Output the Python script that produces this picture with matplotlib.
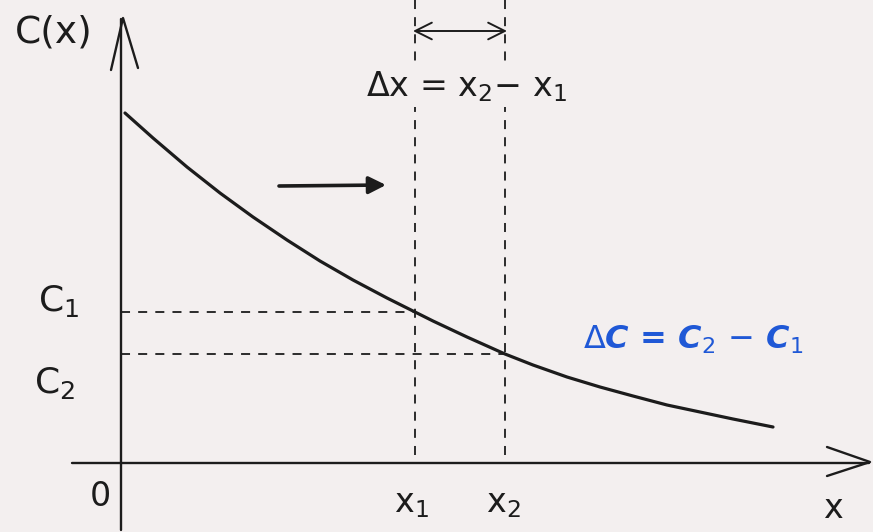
import numpy as np
import matplotlib.pyplot as plt
import matplotlib

matplotlib.rcParams.update({
    "font.family": ["DejaVu Sans"],
    "mathtext.fontset": "dejavusans",
})

x_curve = [0.04, 0.32, 0.66, 0.99, 1.32, 1.66, 1.99, 2.32, 2.66, 2.94,
           3.12, 3.46, 3.84, 4.12, 4.46, 4.79, 5.12, 5.46, 5.79, 6.12, 6.52]
c_curve = [3.50, 3.25, 2.96, 2.70, 2.46, 2.23, 2.02, 1.83, 1.65, 1.51,
           1.42, 1.26, 1.09, 0.98, 0.86, 0.76, 0.67, 0.58, 0.51, 0.44, 0.36]

x1, x2 = 2.94, 3.84
C1, C2 = 1.51, 1.09

ink = "#1c1c1c"
blue = "#1f58d6"
paper = "#f3efef"

fig = plt.figure(figsize=(8.73, 5.32), dpi=100, facecolor=paper)
ax = fig.add_axes([0, 0, 1, 1])
ax.set_facecolor(paper)
ax.set_xlim(-1.21, 7.52)
ax.set_ylim(-0.69, 4.63)
ax.axis("off")

# axes with open arrowheads
axis_kw = dict(color=ink, lw=1.7, solid_joinstyle="round", solid_capstyle="round")
ax.plot([-0.49, 7.48], [0, 0], **axis_kw)
ax.plot([7.06, 7.49, 7.06], [0.16, 0.01, -0.13], **axis_kw)
ax.plot([0, 0], [-0.67, 4.44], **axis_kw)
ax.plot([-0.10, 0.02, 0.17], [3.93, 4.45, 3.95], **axis_kw)

# the curve
ax.plot(x_curve, c_curve, color=ink, lw=2.3, solid_capstyle="round",
        solid_joinstyle="round")

# guide lines
dash = dict(color=ink, lw=1.3, dashes=(5, 4.5))
ax.plot([0, x1], [C1, C1], **dash)
ax.plot([0, x2], [C2, C2], **dash)
ax.plot([x1, x1], [0.08, 4.63], **dash)
ax.plot([x2, x2], [0.08, 4.63], **dash)

# width of the step
ax.annotate("", xy=(x1 - 0.02, 4.32), xytext=(x2 + 0.02, 4.32),
            arrowprops=dict(arrowstyle="<->", color=ink, lw=1.4,
                            mutation_scale=30, shrinkA=0, shrinkB=0))

# direction of x
ax.annotate("", xy=(2.65, 2.78), xytext=(1.58, 2.77),
            arrowprops=dict(arrowstyle="-|>", color=ink, lw=2.6,
                            mutation_scale=26, shrinkA=0, shrinkB=0))

# labels
ax.text(-0.67, 4.31, "C(x)", fontsize=27, color=ink, ha="center", va="center")
ax.text(3.46, 3.76, r"$\Delta$x = x$_2$$-$ x$_1$", fontsize=24, color=ink,
        ha="center", va="center", zorder=5,
        bbox=dict(facecolor=paper, edgecolor="none", pad=2))
ax.text(-0.62, 1.62, r"C$_1$", fontsize=26, color=ink, ha="center", va="center")
ax.text(-0.66, 0.80, r"C$_2$", fontsize=26, color=ink, ha="center", va="center")
ax.text(-0.21, -0.34, "0", fontsize=24, color=ink, ha="center", va="center")
ax.text(x1 - 0.04, -0.40, r"x$_1$", fontsize=24, color=ink, ha="center", va="center")
ax.text(x2 - 0.02, -0.40, r"x$_2$", fontsize=24, color=ink, ha="center", va="center")
ax.text(7.12, -0.45, "x", fontsize=24, color=ink, ha="center", va="center")

ax.text(5.72, 1.23, r"$\Delta$C = C$_2$ $-$ C$_1$", fontsize=23, color=blue,
        style="italic", fontweight="bold", ha="center", va="center")

fig.savefig("out.png", dpi=100, facecolor=paper)
